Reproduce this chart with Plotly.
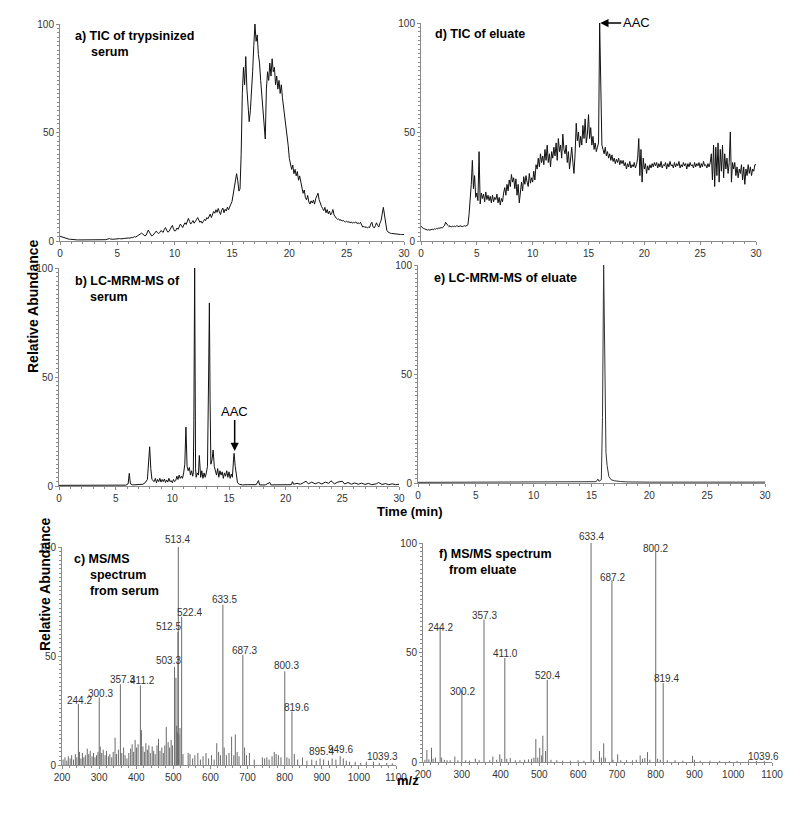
import numpy as np
import plotly.graph_objects as go

# page body has an 8px margin, so the figure is drawn a bit smaller and shifted
OFF = 8
W, H = 800 - 2 * OFF, 813 - 2 * OFF

# ---- chromatogram time grid (0.1 min) ----
t_grid = np.round(np.arange(0, 30.05, 0.1), 1)

# a) TIC of trypsinized serum
tic_serum = [
    2.2, 2.0, 1.8, 1.5, 1.3, 1.1, 1.0, 0.9, 0.8, 0.8,
    0.7, 0.7, 0.6, 0.6, 0.6, 0.5, 0.5, 0.5, 0.5, 0.5,
    0.5, 0.4, 0.5, 0.4, 0.4, 0.4, 0.5, 0.4, 0.4, 0.4,
    0.4, 0.4, 0.3, 0.4, 0.3, 0.4, 0.3, 0.4, 0.4, 0.5,
    0.6, 0.8, 1.0, 1.1, 0.9, 0.8, 0.7, 0.8, 0.9, 1.0,
    1.0, 0.9, 1.1, 1.0, 1.2, 1.1, 1.2, 1.3, 1.2, 1.4,
    1.4, 1.3, 1.6, 1.5, 1.7, 2.0, 1.8, 2.2, 2.5, 2.9,
    3.3, 3.6, 3.3, 2.8, 2.4, 2.6, 3.8, 5.0, 4.0, 2.8,
    2.3, 2.6, 3.2, 4.2, 4.6, 3.8, 3.5, 3.9, 4.8, 4.4,
    4.0, 5.4, 6.2, 5.0, 4.1, 4.4, 5.6, 6.8, 7.2, 5.6,
    4.6, 4.8, 6.0, 5.4, 6.6, 7.8, 7.0, 6.2, 7.4, 8.4,
    7.6, 8.8, 10.4, 9.0, 7.8, 8.6, 9.4, 8.2, 8.8, 9.8,
    10.8, 9.4, 8.6, 9.2, 8.2, 9.0, 10.0, 9.4, 10.8, 10.2,
    11.0, 12.4, 10.8, 12.0, 13.6, 12.8, 14.4, 13.2, 15.0, 13.4,
    12.2, 14.2, 15.2, 13.0, 14.6, 13.8, 15.6, 14.4, 16.2, 17.0,
    18.2, 21.0, 24.0, 27.0, 31.0, 28.0, 23.0, 24.0, 40.0, 68.0,
    80.0, 72.0, 85.0, 70.0, 62.0, 55.0, 60.0, 68.0, 78.0, 90.0,
    100.0, 92.0, 95.0, 86.0, 82.0, 74.0, 66.0, 60.0, 52.0, 47.0,
    70.0, 78.0, 74.0, 82.0, 76.0, 84.0, 78.0, 80.0, 72.0, 76.0,
    70.0, 74.0, 68.0, 72.0, 66.0, 62.0, 58.0, 52.0, 48.0, 44.0,
    38.0, 35.0, 33.0, 35.0, 31.0, 33.0, 30.0, 32.0, 28.0, 30.0,
    27.0, 24.5, 22.0, 23.5, 20.0, 19.0, 21.0, 18.0, 17.0, 18.5,
    17.5, 18.8, 17.0, 19.5, 20.5, 22.0, 19.0, 17.0, 16.0, 15.0,
    14.0, 15.5, 13.0, 14.5, 12.5, 13.8, 12.0, 12.8, 14.5, 12.0,
    11.0, 10.5, 10.0, 10.2, 9.5, 9.8, 9.2, 9.5, 9.0, 8.8,
    9.2, 8.6, 8.9, 8.4, 8.8, 8.2, 8.6, 8.4, 8.8, 8.0,
    8.4, 8.0, 8.6, 7.2, 6.4, 6.8, 6.2, 6.6, 6.0, 6.4,
    6.2, 7.8, 8.6, 6.6, 6.0, 7.0, 8.4, 7.2, 6.4, 8.2,
    9.4, 12.5, 15.5, 12.0, 8.0, 5.0, 4.2, 3.8, 3.6, 3.5,
    3.4, 3.3, 3.3, 3.2, 3.2, 3.1, 3.1, 3.0, 3.0, 3.0,
    3.0,
]

# d) TIC of eluate
tic_eluate = [
    6.8, 6.2, 5.8, 5.6, 5.4, 5.2, 5.0, 5.2, 5.0, 5.2,
    5.4, 5.2, 5.6, 5.4, 5.8, 5.6, 6.0, 5.8, 6.2, 6.0,
    6.4, 7.0, 8.6, 7.6, 7.2, 6.6, 7.0, 6.4, 6.8, 6.6,
    6.8, 6.6, 7.0, 6.8, 6.6, 7.0, 6.8, 6.6, 6.8, 7.0,
    6.8, 7.0, 7.4, 12.0, 18.0, 26.0, 37.0, 24.0, 30.0, 20.0,
    22.0, 18.5, 41.0, 17.0, 22.0, 19.5, 21.5, 18.0, 22.5, 19.0,
    21.0, 18.5, 20.5, 17.5, 21.0, 18.0, 20.0, 19.0, 21.5, 17.5,
    20.0, 16.5, 19.5, 18.0, 22.0, 24.5, 21.0, 26.0, 23.0, 28.0,
    25.0, 30.5, 27.0, 29.0, 24.0, 28.5, 21.0, 26.0, 17.5, 24.0,
    27.0, 23.0, 29.5, 26.0, 30.0, 27.0, 25.0, 31.0, 26.5, 29.0,
    27.0, 32.0, 28.0, 35.0, 33.0, 38.0, 34.0, 40.0, 36.0, 39.0,
    35.0, 42.0, 37.0, 44.0, 36.0, 40.0, 34.0, 41.0, 38.0, 43.0,
    39.0, 45.0, 37.0, 47.0, 41.0, 44.0, 38.0, 49.0, 42.0, 40.0,
    44.0, 36.0, 41.0, 33.0, 38.0, 43.0, 36.0, 31.0, 40.0, 54.0,
    46.0, 50.0, 43.0, 48.0, 44.0, 53.0, 47.0, 56.0, 45.0, 49.0,
    58.0, 47.0, 52.0, 44.0, 48.0, 42.0, 45.0, 41.0, 43.0, 45.0,
    100.0, 62.0, 44.0, 42.0, 40.0, 43.0, 39.0, 41.0, 38.0, 40.0,
    37.0, 39.5, 36.5, 38.0, 35.5, 37.5, 36.0, 38.0, 35.0, 37.0,
    35.5, 37.0, 34.5, 36.0, 33.0, 35.5, 34.0, 36.5, 33.5, 35.0,
    34.0, 36.0, 33.5, 35.0, 38.0, 47.0, 30.0, 42.0, 27.0, 38.0,
    33.0, 35.5, 31.0, 34.5, 32.5, 35.0, 33.5, 35.5, 34.0, 36.0,
    34.5, 36.0, 33.5, 35.5, 34.0, 36.5, 33.5, 35.0, 34.5, 36.0,
    33.0, 35.5, 34.0, 36.5, 34.5, 35.0, 33.5, 36.0, 34.0, 35.5,
    34.5, 36.5, 33.5, 35.0, 34.0, 36.0, 34.5, 35.5, 33.0, 35.5,
    34.0, 36.0, 34.5, 35.0, 33.5, 36.0, 34.0, 35.5, 34.5, 36.0,
    33.5, 35.5, 34.0, 36.5, 34.5, 35.0, 33.5, 35.5, 34.0, 36.0,
    40.0, 28.0, 44.0, 25.0, 43.0, 30.0, 45.0, 27.0, 42.0, 32.0,
    44.0, 29.0, 40.0, 33.0, 38.0, 31.0, 36.0, 50.0, 27.0, 36.0,
    33.0, 36.0, 30.0, 34.0, 29.0, 33.0, 31.0, 35.0, 28.0, 34.0,
    26.0, 33.0, 30.0, 35.0, 31.0, 34.0, 30.0, 33.0, 32.0, 35.0,
    35.0,
]

# b) LC-MRM-MS of serum
t_mrm_serum = [0, 2, 4, 5.9, 6.1, 6.2, 6.3, 6.5, 7.4, 7.6, 7.8, 7.9, 8.0, 8.1, 8.2, 8.4, 8.5, 8.6,
               8.7, 8.8, 8.9, 9.0, 9.1, 9.2, 9.3, 9.4, 9.5, 9.6, 9.7, 9.8, 9.9, 10.0, 10.1, 10.2,
               10.3, 10.4, 10.5, 10.6, 10.7, 10.8, 10.9, 11.0, 11.1, 11.2, 11.3, 11.4, 11.5, 11.6,
               11.7, 11.8, 11.85, 11.9, 11.97, 12.05, 12.1, 12.2, 12.3, 12.38, 12.45, 12.5, 12.6,
               12.7, 12.8, 12.9, 13.0, 13.1, 13.2, 13.27, 13.33, 13.4, 13.5, 13.6, 13.7, 13.8, 13.9,
               14.0, 14.1, 14.2, 14.3, 14.4, 14.5, 14.6, 14.7, 14.8, 14.9, 15.0, 15.1, 15.2, 15.3,
               15.4, 15.45, 15.55, 15.65, 15.75, 15.9, 16.2, 16.6, 17.0, 17.4, 17.6, 17.7, 18.2,
               18.6, 18.7, 19.5, 20.0, 20.5, 20.6, 20.7, 21.0, 21.3, 21.6, 21.8, 22.0, 22.3, 22.6,
               22.9, 23.2, 23.5, 23.8, 24.0, 24.3, 24.6, 25.0, 25.2, 25.5, 25.8, 26.1, 26.4, 26.7,
               27.0, 27.3, 27.6, 28.0, 28.2, 28.5, 28.8, 29.1, 29.4, 29.7, 30.0]
mrm_serum = [0.3, 0.3, 0.4, 0.4, 1.0, 5.8, 1.0, 0.5, 0.8, 1.5, 3.0, 9.0, 18.0, 8.0, 3.0, 2.0, 3.5, 1.5,
             3.0, 2.0, 3.5, 1.8, 3.0, 2.0, 3.2, 1.6, 2.8, 1.8, 3.5, 2.0, 2.5, 1.5, 3.0, 2.0,
             2.5, 4.5, 3.0, 5.0, 3.5, 4.5, 3.5, 6.0, 10.0, 27.0, 9.0, 7.0, 8.5, 5.0,
             7.0, 4.5, 6.0, 30.0, 100.0, 8.0, 4.0, 6.0, 5.0, 14.0, 6.0, 4.0, 7.0,
             3.5, 6.0, 4.0, 6.0, 9.0, 50.0, 84.0, 40.0, 10.0, 12.0, 16.5, 9.0, 7.0, 5.0,
             8.0, 4.0, 7.0, 5.0, 6.5, 3.5, 6.0, 4.5, 7.0, 4.0, 6.5, 3.5, 5.5, 4.0,
             12.0, 15.0, 9.0, 5.0, 1.5, 0.8, 0.5, 0.6, 0.5, 0.6, 2.5, 0.5, 0.5,
             1.6, 0.5, 0.5, 0.8, 0.6, 2.0, 0.8, 1.2, 0.8, 1.6, 2.2, 1.0, 1.8, 1.0,
             1.6, 0.9, 1.8, 1.2, 2.4, 1.0, 1.8, 2.2, 0.9, 1.6, 0.8, 1.4, 0.8, 1.3,
             0.7, 1.2, 0.6, 1.0, 1.6, 0.7, 1.1, 0.6, 1.0, 0.6, 0.8]

# e) LC-MRM-MS of eluate
t_mrm_eluate = [0, 5, 10, 15.0, 15.4, 15.55, 15.65, 15.85, 15.95, 16.05, 16.15, 16.25, 16.35,
                16.5, 16.7, 17.0, 17.5, 18.0, 20.0, 25.0, 30.0]
mrm_eluate = [0.3, 0.3, 0.3, 0.4, 0.6, 1.8, 0.8, 1.5, 30.0, 100.0, 60.0, 14.0, 8.0,
              3.0, 1.5, 1.0, 0.7, 0.5, 0.4, 0.4, 0.4]

# c) MS/MS spectrum from serum
mz_serum = [244.2, 300.3, 357.3, 411.2, 503.3, 512.5, 513.4, 522.4, 633.5, 687.3, 800.3, 819.6,
            895.4, 949.6, 1039.3,
            203, 208, 213, 217, 222, 226, 231, 236, 240, 247, 251, 255, 259, 263, 268, 272, 276,
            281, 285, 289, 293, 297, 303, 307, 311, 316, 320, 325, 329, 334, 338, 343, 347, 352,
            361, 366, 370, 375, 380, 385, 389, 393, 397, 401, 405, 414, 418, 422, 426, 430, 434,
            438, 443, 447, 451, 456, 460, 464, 469, 473, 477, 481, 486, 490, 494, 498, 507, 509,
            511, 515, 518, 526, 540, 545, 552, 558, 566, 573, 580, 588, 595, 603, 610, 617, 622,
            627, 637, 643, 650, 657, 663, 667, 672, 677, 692, 697, 705, 718, 740, 746, 752, 758,
            766, 772, 777, 783, 790, 806, 812, 826, 835, 848, 860, 873, 885, 905, 918, 928, 938,
            958, 966, 975, 990, 1005, 1020, 1055, 1075, 1090]
int_serum = [28.0, 31.0, 37.0, 36.5, 45.0, 61.0, 100.0, 68.0, 73.5, 50.5, 43.0, 24.5,
             3.0, 4.0, 1.5,
             2.5, 3.5, 2.0, 4.0, 3.0, 4.5, 2.5, 5.0, 3.5, 6.0, 3.0, 5.5, 3.5, 4.5, 7.5, 5.0, 6.5,
             4.0, 5.5, 3.5, 4.5, 6.0, 8.5, 5.5, 7.0, 4.5, 6.5, 4.0, 5.0, 3.5, 6.0, 12.5, 5.0, 7.0,
             5.5, 8.0, 4.5, 3.0, 5.5, 7.5, 9.5, 6.0, 11.5, 8.0, 9.5, 16.0, 8.5, 6.0, 10.0, 7.0, 9.0,
             5.5, 8.5, 6.5, 5.0, 9.0, 12.0, 6.5, 8.0, 5.5, 9.0, 17.5, 10.5, 8.0, 11.5, 9.0, 40.0, 18.0,
             15.0, 14.0, 17.0, 5.0, 5.5, 5.0, 3.0, 4.5, 5.5, 2.5, 4.0, 5.5, 3.0, 4.5, 2.5, 10.0, 6.0,
             4.5, 8.0, 4.5, 5.5, 13.0, 4.5, 14.0, 6.0, 4.0, 8.0, 4.5, 5.5, 2.5, 3.5, 3.0, 3.5, 2.5,
             4.0, 6.0, 5.0, 4.5, 3.5, 3.5, 3.0, 5.0, 2.5, 3.5, 2.0, 2.5, 2.0, 2.5, 2.0, 3.0, 2.5,
             3.0, 2.0, 1.5, 1.5, 1.0, 1.5, 1.0, 1.0, 0.8]
lab_serum = ["513.4", "512.5", "522.4", "503.3", "633.5", "687.3", "800.3", "819.6",
             "244.2", "300.3", "357.3", "411.2", "895.4", "949.6", "1039.3"]
lab_serum_x = [510, 487, 543, 487, 638, 692, 806, 833, 248, 303, 362, 418, 900, 951, 1064]
lab_serum_y = [103.6, 63.4, 70.0, 47.8, 75.9, 52.4, 45.5, 26.4, 29.8, 33.0, 39.2, 38.6, 6.4, 6.9, 4.1]

# f) MS/MS spectrum from eluate
mz_eluate = [244.2, 300.2, 357.3, 411.0, 520.4, 633.4, 687.2, 800.2, 819.4, 1039.6,
             205, 210, 215, 222, 226, 232, 248, 255, 262, 270, 282, 290, 310, 320, 335, 345, 372,
             380, 390, 398, 403, 416, 425, 438, 450, 462, 472, 480, 486, 491, 496, 501, 506, 509,
             516, 530, 545, 560, 580, 600, 615, 640, 655, 660, 666, 670, 690, 702, 710, 725, 740,
             750, 760, 766, 772, 779, 785, 805, 812, 830, 850, 870, 895, 900, 915, 940, 965, 990,
             1010, 1060, 1080]
int_eluate = [61.5, 32.5, 65.0, 47.5, 37.5, 100.0, 83.0, 96.0, 36.0, 0.8,
              1.0, 5.5, 1.2, 6.5, 1.5, 2.0, 2.0, 1.0, 0.8, 0.8, 2.5, 0.8, 0.8, 0.6, 1.5, 0.8, 0.8,
              2.5, 1.0, 3.5, 1.5, 1.5, 1.8, 0.8, 0.8, 1.0, 1.2, 1.5, 2.0, 10.5, 2.0, 6.5, 3.0, 12.0,
              5.0, 1.0, 0.8, 0.6, 0.6, 0.8, 0.6, 1.0, 5.0, 2.0, 8.5, 2.0, 1.0, 3.5, 0.8, 0.8, 0.8,
              1.0, 3.0, 1.5, 1.8, 4.5, 1.0, 1.5, 1.0, 0.8, 0.8, 0.6, 2.8, 1.0, 0.6, 0.6, 0.5, 0.5,
              0.5, 0.5, 0.5]
lab_eluate = ["633.4", "800.2", "687.2", "357.3", "244.2", "411.0", "520.4", "819.4", "300.2", "1039.6"]
lab_eluate_x = [635, 800, 688, 359, 246, 414, 520, 829, 302, 1077]
lab_eluate_y = [103.0, 97.7, 84.2, 66.8, 61.6, 49.6, 39.5, 38.0, 32.3, 2.3]


def sticks(mz, inten):
    xs, ys = [], []
    for m, v in zip(mz, inten):
        xs += [m, m, None]
        ys += [0, v, None]
    return xs, ys


# page pixel -> paper fraction
def px(p):
    return (p - OFF) / W


def py(p):
    return 1 - (p - OFF) / H


def dx(p0, p1):
    return [px(p0), px(p1)]


def dy(top, bottom):
    return [py(bottom), py(top)]


FONT = "Liberation Sans, Arial, sans-serif"
AXC = "#8a8a8a"
LINE = "#111111"

fig = go.Figure()

fig.add_scatter(x=t_grid, y=tic_serum, xaxis="x", yaxis="y", mode="lines",
                line=dict(color=LINE, width=1))
fig.add_scatter(x=t_grid, y=tic_eluate, xaxis="x2", yaxis="y2", mode="lines",
                line=dict(color=LINE, width=1))
fig.add_scatter(x=t_mrm_serum, y=mrm_serum, xaxis="x3", yaxis="y3", mode="lines",
                line=dict(color=LINE, width=1))
fig.add_scatter(x=t_mrm_eluate, y=mrm_eluate, xaxis="x4", yaxis="y4", mode="lines",
                line=dict(color="#333333", width=1))
xs, ys = sticks(mz_serum, int_serum)
fig.add_scatter(x=xs, y=ys, xaxis="x5", yaxis="y5", mode="lines",
                line=dict(color="#6a6a6a", width=1))
xs, ys = sticks(mz_eluate, int_eluate)
fig.add_scatter(x=xs, y=ys, xaxis="x6", yaxis="y6", mode="lines",
                line=dict(color="#6a6a6a", width=1))

tickfont = dict(family=FONT, size=10, color="#333333")


def xax(domain, anchor, rng, dtick, minor):
    return dict(domain=domain, anchor=anchor, range=rng, dtick=dtick, tick0=rng[0],
                automargin=False,
                showline=True, linecolor=AXC, linewidth=1, ticks="outside", ticklen=3,
                tickcolor=AXC, showgrid=False, zeroline=False, tickfont=tickfont,
                minor=dict(ticks="outside", ticklen=2, dtick=minor, tickcolor=AXC, showgrid=False))


def yax(domain, anchor):
    return dict(domain=domain, anchor=anchor, range=[0, 100], tickvals=[0, 50, 100],
                automargin=False,
                showline=True, linecolor=AXC, linewidth=1, ticks="outside", ticklen=3,
                tickcolor=AXC, showgrid=False, zeroline=False, tickfont=tickfont,
                minor=dict(ticks="outside", ticklen=2, dtick=2, tickcolor="#8a8a8a", showgrid=False))


ann = []


def label(text, x, y, size=12.5):
    ann.append(dict(text="<b>%s</b>" % text, x=px(x), y=py(y),
                    xref="paper", yref="paper", xanchor="left", yanchor="middle",
                    showarrow=False, font=dict(family=FONT, size=size, color="black")))


label("a) TIC of trypsinized", 73, 36)
label("serum", 89, 52)
label("d) TIC of eluate", 433, 34)
label("b) LC-MRM-MS of", 73, 281)
label("serum", 88, 297)
label("e) LC-MRM-MS of eluate", 432, 278)
label("c) MS/MS", 72, 559)
label("spectrum", 88, 575)
label("from serum", 88, 591)
label("f) MS/MS spectrum", 437, 554)
label("from eluate", 447, 570)

for txt, xp, yp in [("Relative Abundance", 23, 237), ("Relative Abundance", 35, 653)]:
    ann.append(dict(text="<b>%s</b>" % txt, x=px(xp), y=py(yp),
                    xref="paper", yref="paper", textangle=-90, showarrow=False,
                    font=dict(family=FONT, size=14, color="black")))
ann.append(dict(text="<b>Time (min)</b>", x=px(410), y=py(511), xref="paper", yref="paper",
                showarrow=False, font=dict(family=FONT, size=13, color="black")))
ann.append(dict(text="<b>m/z</b>", x=px(408), y=py(790), xref="paper", yref="paper",
                showarrow=False, font=dict(family=FONT, size=13, color="black")))

# AAC markers
ann.append(dict(text="AAC", x=16.05, y=100, xref="x2", yref="y2", showarrow=True,
                ax=36, ay=0, arrowhead=2, arrowsize=1.1, arrowwidth=1.5, arrowcolor="black",
                font=dict(family=FONT, size=13, color="black")))
ann.append(dict(text="AAC", x=15.5, y=16, xref="x3", yref="y3", showarrow=True,
                ax=0, ay=-40, arrowhead=2, arrowsize=1.1, arrowwidth=1.5, arrowcolor="black",
                font=dict(family=FONT, size=13, color="black")))

# peak labels (values above 100 are shifted in pixels so they stay visible)
for txts, xv, yv, ax in [(lab_serum, lab_serum_x, lab_serum_y, "5"),
                         (lab_eluate, lab_eluate_x, lab_eluate_y, "6")]:
    for t, xx, yy in zip(txts, xv, yv):
        ann.append(dict(text=t, x=xx, y=min(yy, 100), yshift=max(yy - 100, 0) * 2.18,
                        xref="x" + ax, yref="y" + ax, showarrow=False,
                        font=dict(family=FONT, size=10, color="#333333")))

fig.update_layout(
    width=W, height=H, autosize=False,
    margin=dict(l=0, r=0, t=0, b=0, autoexpand=False),
    paper_bgcolor="white", plot_bgcolor="white",
    showlegend=False,
    xaxis=xax(dx(60, 404), "y", [0, 30], 5, 1),
    yaxis=yax(dy(24, 241), "x"),
    xaxis2=xax(dx(421, 756), "y2", [0, 30], 5, 1),
    yaxis2=yax(dy(23, 241), "x2"),
    xaxis3=xax(dx(59, 399), "y3", [0, 30], 5, 1),
    yaxis3=yax(dy(268, 486), "x3"),
    xaxis4=xax(dx(418, 765), "y4", [0, 30], 5, 1),
    yaxis4=yax(dy(265, 483), "x4"),
    xaxis5=xax(dx(62, 396), "y5", [200, 1100], 100, 20),
    yaxis5=yax(dy(547, 765), "x5"),
    xaxis6=xax(dx(423, 772), "y6", [200, 1100], 100, 20),
    yaxis6=yax(dy(543, 762), "x6"),
    annotations=ann,
)

fig.write_html("out.html")
